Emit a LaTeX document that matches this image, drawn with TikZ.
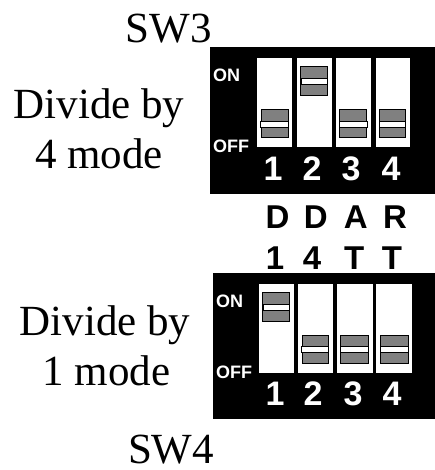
\documentclass[tikz,border=0pt]{standalone}
\usepackage{fontspec}
\setmainfont{Liberation Serif}
\newfontfamily\hv{Liberation Sans}
\tikzset{
 x=1pt,y=-1pt,
 panel/.style={fill=black,draw=none},
 slot/.style={fill=white,draw=none},
 slider/.style={fill=black!50,draw=black,line width=1pt},
 band/.style={fill=white,draw=black,line width=1pt},
 serif/.style={inner sep=0pt,anchor=base,font=\fontsize{43}{43}\selectfont,text=black},
 sans/.style={inner sep=0pt,anchor=base,font=\hv\bfseries\fontsize{33}{33}\selectfont,text=black},
 num/.style={sans,font=\hv\bfseries\fontsize{34}{34}\selectfont,text=white},
 tiny/.style={inner sep=0pt,font=\hv\bfseries\fontsize{18}{18}\selectfont,text=white,anchor=base west},
}
% slider: left, right, top, band left, band right
\newcommand{\dipslider}[5]{%
 \draw[slider] (#1,#3) rectangle (#2,#3+28.5);
 \draw[band] (#4,#3+11.7) rectangle (#5,#3+17.7);
}
\begin{document}
\begin{tikzpicture}
\useasboundingbox (0,0) rectangle (435,470);
% top panel
\fill[panel] (210,47.3) rectangle (435,194);
\fill[slot] (256.7,58.5) rectangle (292.3,146.7);
\fill[slot] (296.7,58.5) rectangle (332,146.7);
\fill[slot] (335.7,58.5) rectangle (371.3,146.7);
\fill[slot] (375.7,58.5) rectangle (410,146.7);
\dipslider{261.7}{288.7}{109.5}{260.5}{288.7}
\dipslider{300}{327.7}{67}{301}{327.3}
\dipslider{339.3}{366}{109.5}{339.3}{367.7}
\dipslider{379.3}{405.7}{109.5}{379.3}{405.7}
\node[tiny] (on1) at (213,81.7) {ON};
\node[tiny] (off1) at (213,152.7) {OFF};
\node[num] (n11) at (273,180.5) {1};
\node[num] (n12) at (312,180.5) {2};
\node[num] (n13) at (351,180.5) {3};
\node[num] (n14) at (391,180.5) {4};
% bottom panel
\fill[panel] (212.7,272.7) rectangle (435,419);
\fill[slot] (258.7,284) rectangle (293.7,372.7);
\fill[slot] (298.3,284) rectangle (332.7,372.7);
\fill[slot] (337,284) rectangle (372.7,372.7);
\fill[slot] (376.3,284) rectangle (412,372.7);
\dipslider{262.7}{289.3}{292.8}{263.3}{289.3}
\dipslider{302}{328.7}{335}{301}{328.7}
\dipslider{340.3}{368.3}{335}{340.3}{368.3}
\dipslider{380.3}{408}{335}{380.3}{408}
\node[tiny] (on2) at (216,307.7) {ON};
\node[tiny] (off2) at (216,378.3) {OFF};
\node[num] (n21) at (275,405.5) {1};
\node[num] (n22) at (313,405.5) {2};
\node[num] (n23) at (353,405.5) {3};
\node[num] (n24) at (392,405.5) {4};
% middle letters
\node[sans] (d1) at (277.5,228.3) {D};
\node[sans] (d2) at (315.7,228.3) {D};
\node[sans] (a) at (355.7,228.3) {A};
\node[sans] (r) at (395,228.3) {R};
\node[sans] (b1) at (275,269) {1};
\node[sans] (b2) at (312,269) {4};
\node[sans] (b3) at (354.3,269) {T};
\node[sans] (b4) at (392,269) {T};
% serif text
\node[serif] (sw3) at (168.5,43) {SW3};
\node[serif] (t1) at (99,119) {Divide by};
\node[serif] (t2) at (99,169) {4 mode};
\node[serif] (t3) at (105,335.7) {Divide by};
\node[serif] (t4) at (106.5,385.7) {1 mode};
\node[serif] (sw4) at (171,463.5) {SW4};
\end{tikzpicture}
\end{document}
